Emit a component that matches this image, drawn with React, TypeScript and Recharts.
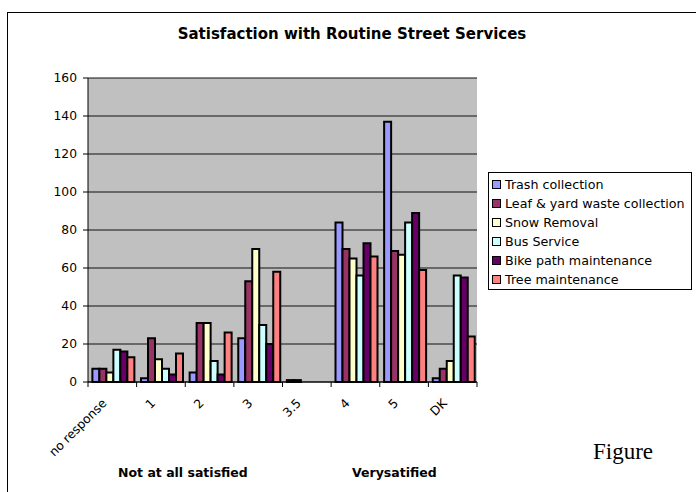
import { BarChart, Bar, XAxis, YAxis, CartesianGrid } from "recharts";

const categories = ["no response", "1", "2", "3", "3.5", "4", "5", "DK"];
const trash = [7, 2, 5, 23, 1, 84, 137, 2];
const leaf = [7, 23, 31, 53, 1, 70, 69, 7];
const snow = [5, 12, 31, 70, null, 65, 67, 11];
const bus = [17, 7, 11, 30, null, 56, 84, 56];
const bike = [16, 4, 4, 20, null, 73, 89, 55];
const tree = [13, 15, 26, 58, null, 66, 59, 24];
const yTicks = [0, 20, 40, 60, 80, 100, 120, 140, 160];

const seriesNames = [
  "Trash collection",
  "Leaf & yard waste collection",
  "Snow Removal",
  "Bus Service",
  "Bike path maintenance",
  "Tree maintenance",
];
const seriesValues = [trash, leaf, snow, bus, bike, tree];
const colors = ["#9999FF", "#993366", "#FFFFCC", "#CCFFFF", "#660066", "#FF8080"];
const keys = ["trash", "leaf", "snow", "bus", "bike", "tree"];

const data = categories.map((c, i) => {
  const row: any = { cat: c };
  keys.forEach((k, s) => (row[k] = seriesValues[s][i]));
  return row;
});

const FONT = "'DejaVu Sans', Verdana, sans-serif";
const PLOT_LEFT = 88;
const PLOT_RIGHT = 477;
const PLOT_TOP = 78;
const PLOT_BOTTOM = 382;
const BAND = (PLOT_RIGHT - PLOT_LEFT) / categories.length;

const XTick = (props: any) => {
  const { x, y, payload, index } = props;
  const half = BAND / 2;
  const tx = x - 5;
  const ty = y + 22;
  return (
    <g>
      <line x1={x - half} x2={x - half} y1={y} y2={y + 5} stroke="#000" />
      {index === categories.length - 1 && (
        <line x1={x + half} x2={x + half} y1={y} y2={y + 5} stroke="#000" />
      )}
      <text
        x={tx}
        y={ty}
        transform={`rotate(-45 ${tx} ${ty})`}
        textAnchor="end"
        fontSize={12.3}
        fontFamily={FONT}
        fill="#000"
      >
        {payload.value}
      </text>
    </g>
  );
};

export default function App() {
  return (
    <div style={{ position: "absolute", left: 0, top: 0, width: 696, height: 492, background: "#fff", overflow: "hidden" }}>
      <div style={{ position: "absolute", left: 7, top: 12, width: 700, height: 500, border: "1px solid #000" }} />
      <div
        style={{
          position: "absolute",
          left: 0,
          top: 25,
          width: 704,
          textAlign: "center",
          fontFamily: FONT,
          fontWeight: "bold",
          fontSize: 15,
        }}
      >
        Satisfaction with Routine Street Services
      </div>
      <div style={{ position: "absolute", left: 0, top: 0 }}>
        <BarChart
          width={696}
          height={492}
          data={data}
          barGap={0}
          barCategoryGap="9%"
          margin={{ top: PLOT_TOP, right: 696 - PLOT_RIGHT, left: PLOT_LEFT - 50, bottom: 492 - PLOT_BOTTOM - 30 }}
        >
          <CartesianGrid vertical={false} fill="#C0C0C0" stroke="#111" strokeOpacity={1} />
          <XAxis
            dataKey="cat"
            interval={0}
            height={30}
            tickSize={0}
            tickMargin={0}
            tickLine={false}
            axisLine={{ stroke: "#000" }}
            tick={<XTick />}
          />
          <YAxis
            width={50}
            domain={[0, 160]}
            ticks={yTicks}
            interval={0}
            tickSize={5}
            tickMargin={6}
            axisLine={{ stroke: "#000" }}
            tickLine={{ stroke: "#000" }}
            tick={{ fontSize: 12.3, fontFamily: FONT, fill: "#000" }}
          />
          {keys.map((k, i) => (
            <Bar
              key={k}
              dataKey={k}
              name={seriesNames[i]}
              fill={colors[i]}
              stroke="#000"
              strokeWidth={2}
              isAnimationActive={false}
            />
          ))}
        </BarChart>
      </div>
      <div
        style={{
          position: "absolute",
          left: 488,
          top: 172,
          width: 204,
          height: 118,
          border: "1px solid #000",
          background: "#fff",
          boxSizing: "border-box",
          paddingTop: 2,
          fontFamily: FONT,
          fontSize: 12.7,
          whiteSpace: "nowrap",
        }}
      >
        {seriesNames.map((n, i) => (
          <div key={n} style={{ height: 19, display: "flex", alignItems: "center", paddingLeft: 3 }}>
            <span
              style={{
                display: "inline-block",
                width: 7,
                height: 7,
                background: colors[i],
                border: "1px solid #000",
                marginRight: 4,
              }}
            />
            {n}
          </div>
        ))}
      </div>
      <div style={{ position: "absolute", left: 118, top: 465, fontFamily: FONT, fontWeight: "bold", fontSize: 12.5 }}>
        Not at all satisfied
      </div>
      <div style={{ position: "absolute", left: 352, top: 465, fontFamily: FONT, fontWeight: "bold", fontSize: 12.5 }}>
        Verysatified
      </div>
      <div style={{ position: "absolute", left: 593, top: 439, fontFamily: "'Liberation Serif', serif", fontSize: 23 }}>
        Figure
      </div>
    </div>
  );
}
